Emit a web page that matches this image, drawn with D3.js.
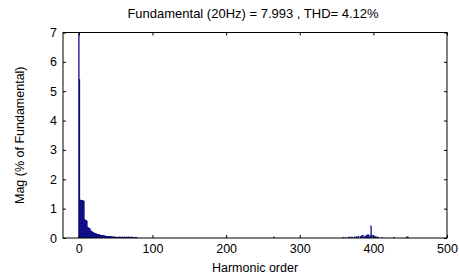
<!DOCTYPE html>
<html>
<head>
<meta charset="utf-8">
<script src="https://cdn.jsdelivr.net/npm/d3@7"></script>
<style>
  body { margin: 0; background: #fff; }
  text { font-family: "Liberation Sans", Arial, sans-serif; fill: #000; }
</style>
</head>
<body>
<svg id="chart" width="459" height="280"></svg>
<script>
// Harmonic spectrum data (magnitude in % of fundamental)
var titleText = "Fundamental (20Hz) = 7.993 , THD= 4.12%";
var xLabel = "Harmonic order";
var yLabel = "Mag (% of Fundamental)";
var xTicks = [0, 100, 200, 300, 400, 500];
var yTicks = [0, 1, 2, 3, 4, 5, 6, 7];

// orders 0..79, consecutive
var lowMag = [100, 5.4, 1.3, 1.29, 1.28, 1.28, 1.27, 1.26, 0.62, 0.61, 0.6, 0.58,
    0.36, 0.35, 0.34, 0.32, 0.26, 0.24, 0.22, 0.2, 0.19, 0.17, 0.16, 0.15,
    0.14, 0.13, 0.12, 0.11, 0.11, 0.1, 0.1, 0.09, 0.09, 0.08, 0.08, 0.07,
    0.07, 0.07, 0.06, 0.06, 0.06, 0.05, 0.05, 0.05, 0.05, 0.04, 0.04, 0.04,
    0.04, 0.04, 0.03, 0.03, 0.03, 0.03, 0.03, 0.03, 0.04, 0.02, 0.03, 0.04,
    0.02, 0.01, 0.04, 0.02, 0.01, 0.04, 0.01, 0.01, 0.04, 0.01, 0.01, 0.01,
    0.04, 0.01, 0.01, 0.01, 0.01, 0.01, 0.01, 0.01];

// sparse harmonics further up
var highOrders = [265, 359, 362, 366, 368, 370, 372, 375, 377, 379, 380,
    383, 384, 386, 388, 390, 391, 392, 393, 394, 396, 397,
    398, 400, 401, 403, 405, 407, 412, 428, 445, 447];
var highMag = [0.04, 0.03, 0.03, 0.04, 0.03, 0.04, 0.03, 0.04, 0.05, 0.04, 0.06,
    0.05, 0.08, 0.1, 0.05, 0.07, 0.1, 0.08, 0.12, 0.09, 0.08, 0.41,
    0.1, 0.08, 0.06, 0.05, 0.04, 0.03, 0.03, 0.03, 0.04, 0.04];

var bars = lowMag.map(function (v, i) { return { order: i, mag: v }; })
    .concat(highOrders.map(function (o, i) { return { order: o, mag: highMag[i] }; }));

var m = { left: 63, right: 12, top: 32.5, bottom: 42 };
var W = 459, H = 280;
var w = W - m.left - m.right, h = H - m.top - m.bottom;

var svg = d3.select("#chart");
svg.append("rect").attr("width", W).attr("height", H).attr("fill", "#fff");

var chart = svg.append("g")
    .attr("transform", "translate(" + m.left + "," + m.top + ")");

var x = d3.scaleLinear().domain([-21.5, 500]).range([0, w]);
var y = d3.scaleLinear().domain([0, 7]).range([h, 0]);

chart.append("clipPath").attr("id", "clip")
    .append("rect").attr("width", w).attr("height", h);

var bw = x(1) - x(0);
chart.append("g").attr("clip-path", "url(#clip)")
    .selectAll("rect").data(bars).enter().append("rect")
    .attr("x", function (d) { return x(d.order) - bw / 2; })
    .attr("width", bw)
    .attr("y", function (d) { return y(Math.min(d.mag, 8)); })
    .attr("height", function (d) { return h - y(Math.min(d.mag, 8)); })
    .attr("fill", "#00007f")
    .attr("stroke", "#00007f")
    .attr("stroke-width", 0.4);

// axes, ticks inward like MATLAB
var fs = "12.5px";
var gX = chart.append("g").attr("transform", "translate(0," + h + ")")
    .call(d3.axisBottom(x).tickValues(xTicks).tickSizeInner(-3).tickSizeOuter(0).tickPadding(6));
var gXt = chart.append("g")
    .call(d3.axisTop(x).tickValues(xTicks).tickSizeInner(-3).tickSizeOuter(0).tickFormat(""));
var gY = chart.append("g")
    .call(d3.axisLeft(y).tickValues(yTicks).tickFormat(d3.format("d")).tickSizeInner(-3).tickSizeOuter(0).tickPadding(6));
var gYr = chart.append("g").attr("transform", "translate(" + w + ",0)")
    .call(d3.axisRight(y).tickValues(yTicks).tickSizeInner(-3).tickSizeOuter(0).tickFormat(""));

[gX, gXt, gY, gYr].forEach(function (g) {
    g.selectAll("text").style("font-size", fs).style("font-family", "Liberation Sans, Arial, sans-serif");
    g.select(".domain").remove();
    g.selectAll("line").attr("stroke", "#000");
});

chart.append("rect")
    .attr("x", 0).attr("y", 0).attr("width", w).attr("height", h)
    .attr("fill", "none").attr("stroke", "#000").attr("stroke-width", 1);

svg.append("text")
    .attr("x", m.left + w / 2 - 2).attr("y", 18)
    .attr("text-anchor", "middle").style("font-size", "13px")
    .text(titleText);

svg.append("text")
    .attr("x", m.left + w / 2).attr("y", 272)
    .attr("text-anchor", "middle").style("font-size", "12.5px")
    .text(xLabel);

svg.append("text")
    .attr("transform", "translate(24," + (m.top + h / 2) + ") rotate(-90)")
    .attr("text-anchor", "middle").style("font-size", "12.5px")
    .text(yLabel);
</script>
</body>
</html>
